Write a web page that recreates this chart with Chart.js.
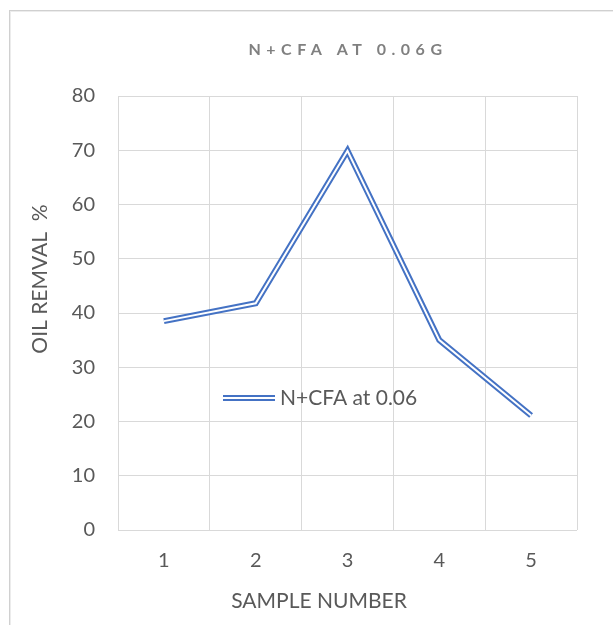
<!DOCTYPE html>
<html>
<head>
<meta charset="utf-8">
<script src="https://cdn.jsdelivr.net/npm/chart.js@4.4.1/dist/chart.umd.min.js"></script>
<style>
  html, body { margin: 0; padding: 0; background: #fff; }
  #wrap { width: 613px; height: 625px; position: relative; }
</style>
</head>
<body>
<div id="wrap"><canvas id="oilChart" width="613" height="625"></canvas></div>
<script>
const sampleLabels = ['1', '2', '3', '4', '5'];
const oilRemoval = [38.5, 41.8, 69.9, 35.0, 21.1];
const yTicks = [0, 10, 20, 30, 40, 50, 60, 70, 80];

const chartTitle = 'N+CFA AT 0.06G';
const seriesName = 'N+CFA at 0.06';
const xTitle = 'SAMPLE NUMBER';
const yTitle = 'OIL REMVAL  %';
const lineBlue = '#4472C4';
const textGray = '#595959';
const fontFam = 'Lato, "Open Sans", sans-serif';

// frame, titles, double-line effect and the in-plot legend (Excel style)
const excelLook = {
    id: 'excelLook',
    beforeDraw(chart) {
        const ctx = chart.ctx;
        ctx.save();
        ctx.fillStyle = '#fff';
        ctx.fillRect(0, 0, chart.width, chart.height);
        ctx.strokeStyle = '#d0d0d0';
        ctx.lineWidth = 1;
        ctx.strokeRect(9.5, 10.5, chart.width, chart.height);
        ctx.strokeStyle = '#ececec';
        ctx.strokeRect(10.5, 11.5, chart.width, chart.height);
        ctx.restore();
    },
    afterDatasetsDraw(chart) {
        const ctx = chart.ctx;
        const pts = chart.getDatasetMeta(0).data;
        ctx.save();
        ctx.strokeStyle = '#fff';
        ctx.lineWidth = 2;
        ctx.lineJoin = 'miter';
        ctx.beginPath();
        pts.forEach((p, i) => i ? ctx.lineTo(p.x, p.y) : ctx.moveTo(p.x, p.y));
        ctx.stroke();
        ctx.restore();
    },
    afterDraw(chart) {
        const ctx = chart.ctx;
        const area = chart.chartArea;
        ctx.save();
        ctx.textBaseline = 'middle';
        // chart title
        ctx.font = 'bold 16px ' + fontFam;
        ctx.fillStyle = '#808080';
        ctx.letterSpacing = '5.5px';
        ctx.textAlign = 'center';
        ctx.fillText(chartTitle, 348, 50);
        ctx.letterSpacing = '0px';
        // axis titles
        ctx.font = '21px ' + fontFam;
        ctx.fillStyle = textGray;
        ctx.fillText(xTitle, 319, 601);
        ctx.save();
        ctx.translate(40, 279);
        ctx.rotate(-Math.PI / 2);
        ctx.fillText(yTitle, 0, 0);
        ctx.restore();
        // legend
        const lx = area.left + 105, ly = area.top + 302;
        ctx.strokeStyle = lineBlue;
        ctx.lineWidth = 6;
        ctx.beginPath(); ctx.moveTo(lx, ly); ctx.lineTo(lx + 52, ly); ctx.stroke();
        ctx.strokeStyle = '#fff';
        ctx.lineWidth = 2;
        ctx.beginPath(); ctx.moveTo(lx - 1, ly); ctx.lineTo(lx + 53, ly); ctx.stroke();
        ctx.fillStyle = textGray;
        ctx.textAlign = 'left';
        ctx.fillText(seriesName, lx + 57, ly);
        ctx.restore();
    }
};

new Chart(document.getElementById('oilChart'), {
    type: 'line',
    data: {
        labels: sampleLabels,
        datasets: [{
            label: seriesName,
            data: oilRemoval,
            borderColor: lineBlue,
            borderWidth: 6,
            borderJoinStyle: 'miter',
            pointRadius: 0,
            tension: 0,
            fill: false
        }]
    },
    options: {
        responsive: false,
        animation: false,
        layout: { padding: { left: 0, right: 36, top: 96, bottom: 0 } },
        plugins: {
            legend: { display: false },
            title: { display: false },
            tooltip: { enabled: false }
        },
        scales: {
            x: {
                offset: true,
                grid: { color: '#d9d9d9', offset: true, drawTicks: false },
                border: { display: false },
                ticks: { color: textGray, font: { family: fontFam, size: 20 }, padding: 19 },
                afterFit(scale) { scale.height = 95; }
            },
            y: {
                min: 0, max: 80,
                afterBuildTicks(scale) { scale.ticks = yTicks.map(v => ({ value: v })); },
                grid: { color: '#d9d9d9', drawTicks: false },
                border: { display: false },
                ticks: { color: textGray, font: { family: fontFam, size: 20 }, padding: 23 },
                afterFit(scale) { scale.width = 118; }
            }
        }
    },
    plugins: [excelLook]
});
</script>
</body>
</html>
